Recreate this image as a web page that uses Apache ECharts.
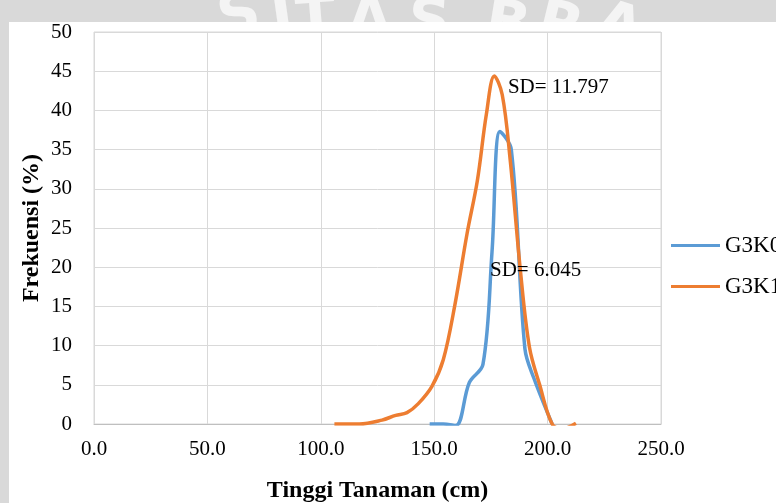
<!DOCTYPE html>
<html>
<head>
<meta charset="utf-8">
<script src="https://cdn.jsdelivr.net/npm/echarts@6/dist/echarts.min.js"></script>
<style>
  html, body { margin: 0; padding: 0; background: #ffffff; }
  #chart { width: 776px; height: 503px; }
</style>
</head>
<body>
<div id="chart"></div>
<script>
// Height classes (cm) and frequency (%) per population
const xTicks = [0, 50, 100, 150, 200, 250];
const yTicks = [0, 5, 10, 15, 20, 25, 30, 35, 40, 45, 50];
const seriesNames = ['G3K0', 'G3K1'];

const g3k0Height = [148, 154, 159.5, 165.5, 171.5, 175.5, 179, 184, 190, 194, 202];
const g3k0Freq   = [0,   0,   -0.2,  5.3,   7.6,   22,    37.3, 35,  9.6, 5.8, 0];

const g3k1Height = [106, 117, 127, 133, 138, 143, 149, 154, 159, 164.5, 169, 173, 176.5, 180, 183.5, 188, 192, 196.5, 202, 206.5, 212.5];
const g3k1Freq   = [0,   0,   0.5, 1.1, 1.45, 2.6, 4.8, 8.2, 15, 24.3,  31,  39.5, 44.4, 42,  33.7,  19.6, 9.8, 5,     0,   -0.6,  0.1];

// Standard deviation notes and the [height, freq] spot where each note starts
const sdTexts = ['SD= 6.045', 'SD= 11.797'];
const sdAnchors = [[174.6, 19.6], [182.5, 42.9]];

const colors = ['#5b9bd5', '#ed7d31'];
const serif = '"Liberation Serif", "Times New Roman", serif';

function pairs(xs, ys) { return xs.map((x, i) => [x, ys[i]]); }

// Watermark lettering across the top band
const wmLetters = [
  { ch: 'S', x: 213, rot: 0.22 },
  { ch: 'I', x: 268, rot: 0.14 },
  { ch: 'T', x: 294, rot: 0.08 },
  { ch: 'A', x: 347, rot: 0.0 },
  { ch: 'S', x: 410, rot: -0.06 },
  { ch: 'B', x: 490, rot: -0.16 },
  { ch: 'R', x: 545, rot: -0.24 },
  { ch: 'A', x: 606, rot: -0.32 }
];

const chart = echarts.init(document.getElementById('chart'), null, { renderer: 'canvas' });

const bgElements = wmLetters.map(l => ({
  type: 'text',
  x: l.x, y: -6,
  rotation: l.rot,
  z: -20,
  style: {
    text: l.ch,
    fill: '#f4f4f4',
    font: 'bold 58px "DejaVu Sans", sans-serif',
    verticalAlign: 'top'
  }
}));
bgElements.push({
  type: 'rect',
  z: -10,
  shape: { x: 9, y: 22, width: 776, height: 503 },
  style: { fill: '#ffffff' }
});

chart.setOption({
  backgroundColor: '#d9d9d9',
  animation: false,
  color: colors,
  textStyle: { fontFamily: serif },
  grid: {
    left: 94, top: 32, width: 567, height: 392,
    show: true, borderColor: '#d9d9d9', borderWidth: 1,
    containLabel: false,
    outerBoundsMode: 'none'
  },
  legend: {
    orient: 'vertical',
    left: 666, top: 229,
    icon: 'rect',
    itemWidth: 49, itemHeight: 3, itemGap: 18,
    textStyle: { fontFamily: serif, fontSize: 23, color: '#000' },
    data: seriesNames
  },
  xAxis: {
    type: 'value',
    min: xTicks[0], max: xTicks[xTicks.length - 1], interval: 50,
    name: 'Tinggi Tanaman (cm)',
    nameLocation: 'middle', nameGap: 55, nameMoveOverlap: false,
    nameTextStyle: { fontFamily: serif, fontSize: 24, fontWeight: 'bold', color: '#000' },
    axisLine: { show: true, lineStyle: { color: '#bfbfbf', width: 1 } },
    axisTick: { show: false },
    axisLabel: {
      margin: 15, fontFamily: serif, fontSize: 21, color: '#000',
      formatter: v => v.toFixed(1)
    },
    splitLine: { show: true, lineStyle: { color: '#d9d9d9', width: 1 } }
  },
  yAxis: {
    type: 'value',
    min: yTicks[0], max: yTicks[yTicks.length - 1], interval: 5,
    name: 'Frekuensi (%)',
    nameLocation: 'middle', nameGap: 50, nameRotate: 90, nameMoveOverlap: false,
    nameTextStyle: { fontFamily: serif, fontSize: 24, fontWeight: 'bold', color: '#000' },
    axisLine: { show: false },
    axisTick: { show: false },
    axisLabel: { margin: 22, fontFamily: serif, fontSize: 21, color: '#000' },
    splitLine: { show: true, lineStyle: { color: '#d9d9d9', width: 1 } }
  },
  series: [
    {
      name: seriesNames[0], type: 'line',
      data: pairs(g3k0Height, g3k0Freq),
      smooth: 0.35, symbol: 'none', clip: true,
      lineStyle: { width: 3.5, color: colors[0] }
    },
    {
      name: seriesNames[1], type: 'line',
      data: pairs(g3k1Height, g3k1Freq),
      smooth: 0.35, symbol: 'none', clip: true,
      lineStyle: { width: 3.5, color: colors[1] }
    }
  ],
  graphic: bgElements
});

// SD notes placed at data coordinates
const notes = sdTexts.map((t, i) => {
  const p = chart.convertToPixel({ gridIndex: 0 }, sdAnchors[i]);
  return {
    type: 'text', x: p[0], y: p[1], z: 20,
    style: {
      text: t, fill: '#000',
      font: '21px ' + serif,
      align: 'left',
      verticalAlign: 'middle'
    }
  };
});
chart.setOption({ graphic: bgElements.concat(notes) });
</script>
</body>
</html>
